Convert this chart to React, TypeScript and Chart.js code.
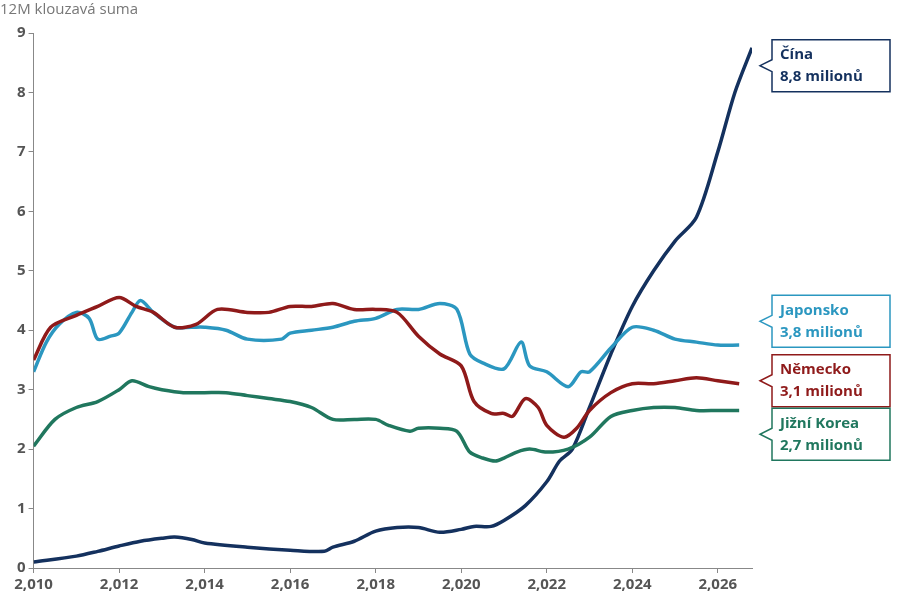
import React, { useEffect, useRef } from "react";
import { Chart, registerables } from "chart.js";
Chart.register(...registerables);

const chinaX = [2010,2011,2011.5,2012,2012.5,2013,2013.3,2013.7,2014,2015,2016,2016.8,2017,2017.5,2018,2018.5,2019,2019.5,2020,2020.3,2020.7,2021,2021.5,2022,2022.3,2022.6,2023,2023.5,2024,2024.5,2025,2025.5,2026,2026.4,2026.8];
const chinaY = [0.1,0.2,0.28,0.37,0.45,0.5,0.52,0.48,0.42,0.35,0.3,0.28,0.35,0.45,0.62,0.68,0.68,0.6,0.65,0.7,0.7,0.8,1.05,1.45,1.8,2.0,2.7,3.6,4.4,5.0,5.5,5.9,7.0,8.0,8.75];
const japanX = [2010,2010.3,2010.6,2011,2011.3,2011.5,2011.8,2012,2012.3,2012.5,2012.8,2013.3,2013.7,2014,2014.5,2015,2015.8,2016,2016.5,2017,2017.5,2018,2018.5,2019,2019.5,2019.9,2020.2,2020.5,2021,2021.4,2021.6,2022,2022.5,2022.8,2023,2023.5,2024,2024.5,2025,2025.5,2026,2026.5];
const japanY = [3.3,3.8,4.1,4.3,4.2,3.85,3.9,3.95,4.3,4.5,4.3,4.05,4.05,4.05,4.0,3.85,3.85,3.95,4.0,4.05,4.15,4.2,4.35,4.35,4.45,4.35,3.6,3.45,3.35,3.8,3.4,3.3,3.05,3.3,3.3,3.7,4.05,4.0,3.85,3.8,3.75,3.75];
const germanyX = [2010,2010.4,2011,2011.5,2012,2012.4,2012.8,2013.3,2013.8,2014.3,2015,2015.5,2016,2016.5,2017,2017.5,2018,2018.5,2019,2019.5,2020,2020.3,2020.7,2021,2021.2,2021.5,2021.8,2022,2022.4,2022.7,2023,2023.5,2024,2024.5,2025,2025.5,2026,2026.5];
const germanyY = [3.5,4.05,4.25,4.4,4.55,4.4,4.3,4.05,4.1,4.35,4.3,4.3,4.4,4.4,4.45,4.35,4.35,4.3,3.9,3.6,3.4,2.8,2.6,2.6,2.55,2.85,2.7,2.4,2.2,2.35,2.65,2.95,3.1,3.1,3.15,3.2,3.15,3.1];
const koreaX = [2010,2010.5,2011,2011.5,2012,2012.3,2012.7,2013,2013.5,2014,2014.5,2015,2015.5,2016,2016.5,2017,2017.5,2018,2018.3,2018.8,2019,2019.5,2019.9,2020.2,2020.5,2020.8,2021,2021.3,2021.6,2022,2022.5,2023,2023.5,2024,2024.5,2025,2025.5,2026,2026.5];
const koreaY = [2.05,2.5,2.7,2.8,3.0,3.15,3.05,3.0,2.95,2.95,2.95,2.9,2.85,2.8,2.7,2.5,2.5,2.5,2.4,2.3,2.35,2.35,2.3,1.95,1.85,1.8,1.85,1.95,2.0,1.95,2.0,2.2,2.55,2.65,2.7,2.7,2.65,2.65,2.65];

const labels = [
  { l1: "Čína", l2: "8,8 milionů", color: "#14315e", at: 8.45 },
  { l1: "Japonsko", l2: "3,8 milionů", color: "#2b97c0", at: 4.15 },
  { l1: "Německo", l2: "3,1 milionů", color: "#8f1a1a", at: 3.15 },
  { l1: "Jižní Korea", l2: "2,7 milionů", color: "#20775e", at: 2.25 },
];

const pts = (xs: number[], ys: number[]) => xs.map((x, i) => ({ x, y: ys[i] }));

export default function App() {
  const ref = useRef<HTMLCanvasElement>(null);
  useEffect(() => {
    document.body.style.margin = "0";
    const boxPlugin = {
      id: "boxes",
      afterDraw(chart: any) {
        const ctx = chart.ctx;
        const ys = chart.scales.y;
        const left = chart.chartArea.right + 20;
        const w = 118, h = 52;
        labels.forEach((lb) => {
          const cy = ys.getPixelForValue(lb.at);
          const top = cy - h / 2;
          ctx.save();
          ctx.fillStyle = "#fff";
          ctx.strokeStyle = lb.color;
          ctx.lineWidth = 1.5;
          ctx.beginPath();
          ctx.moveTo(left, top);
          ctx.lineTo(left + w, top);
          ctx.lineTo(left + w, top + h);
          ctx.lineTo(left, top + h);
          ctx.lineTo(left, cy + 6);
          ctx.lineTo(left - 12, cy);
          ctx.lineTo(left, cy - 6);
          ctx.closePath();
          ctx.fill();
          ctx.stroke();
          ctx.fillStyle = lb.color;
          ctx.font = "bold 15px 'Open Sans'";
          ctx.textBaseline = "middle";
          ctx.fillText(lb.l1, left + 8, cy - 11);
          ctx.fillText(lb.l2, left + 8, cy + 11);
          ctx.restore();
        });
        ctx.save();
        ctx.fillStyle = "#777";
        ctx.font = "15px 'Open Sans'";
        ctx.textBaseline = "middle";
        ctx.fillText("12M klouzavá suma", 0, 10);
        ctx.restore();
      },
    };
    const mk = (d: any, c: string) => ({ data: d, borderColor: c, borderWidth: 3.5, pointRadius: 0, tension: 0.3, fill: false });
    const chart = new Chart(ref.current!, {
      type: "line",
      data: {
        datasets: [
          mk(pts(koreaX, koreaY), "#20775e"),
          mk(pts(germanyX, germanyY), "#8f1a1a"),
          mk(pts(japanX, japanY), "#2b97c0"),
          mk(pts(chinaX, chinaY), "#14315e"),
        ],
      },
      options: {
        animation: false,
        responsive: false,
        layout: { padding: { top: 33, right: 148, left: 14, bottom: 3 } },
        plugins: { legend: { display: false }, tooltip: { enabled: false } },
        scales: {
          x: {
            type: "linear", min: 2010, max: 2026.8,
            ticks: { autoSkip: false, color: "#555", font: { family: "Open Sans", weight: "bold", size: 15 } },
            afterBuildTicks: (a: any) => { a.ticks = [2010,2012,2014,2016,2018,2020,2022,2024,2026].map((v) => ({ value: v })); },
            grid: { drawOnChartArea: false, color: "#888", tickLength: 5 },
            border: { color: "#888" },
          },
          y: {
            min: 0, max: 9,
            ticks: { stepSize: 1, color: "#555", font: { family: "Open Sans", weight: "bold", size: 15 } },
            grid: { drawOnChartArea: false, color: "#888", tickLength: 5 },
            border: { color: "#888" },
          },
        },
      },
      plugins: [boxPlugin],
    } as any);
    return () => chart.destroy();
  }, []);
  return <canvas ref={ref} width={900} height={600} style={{ display: "block" }} />;
}
